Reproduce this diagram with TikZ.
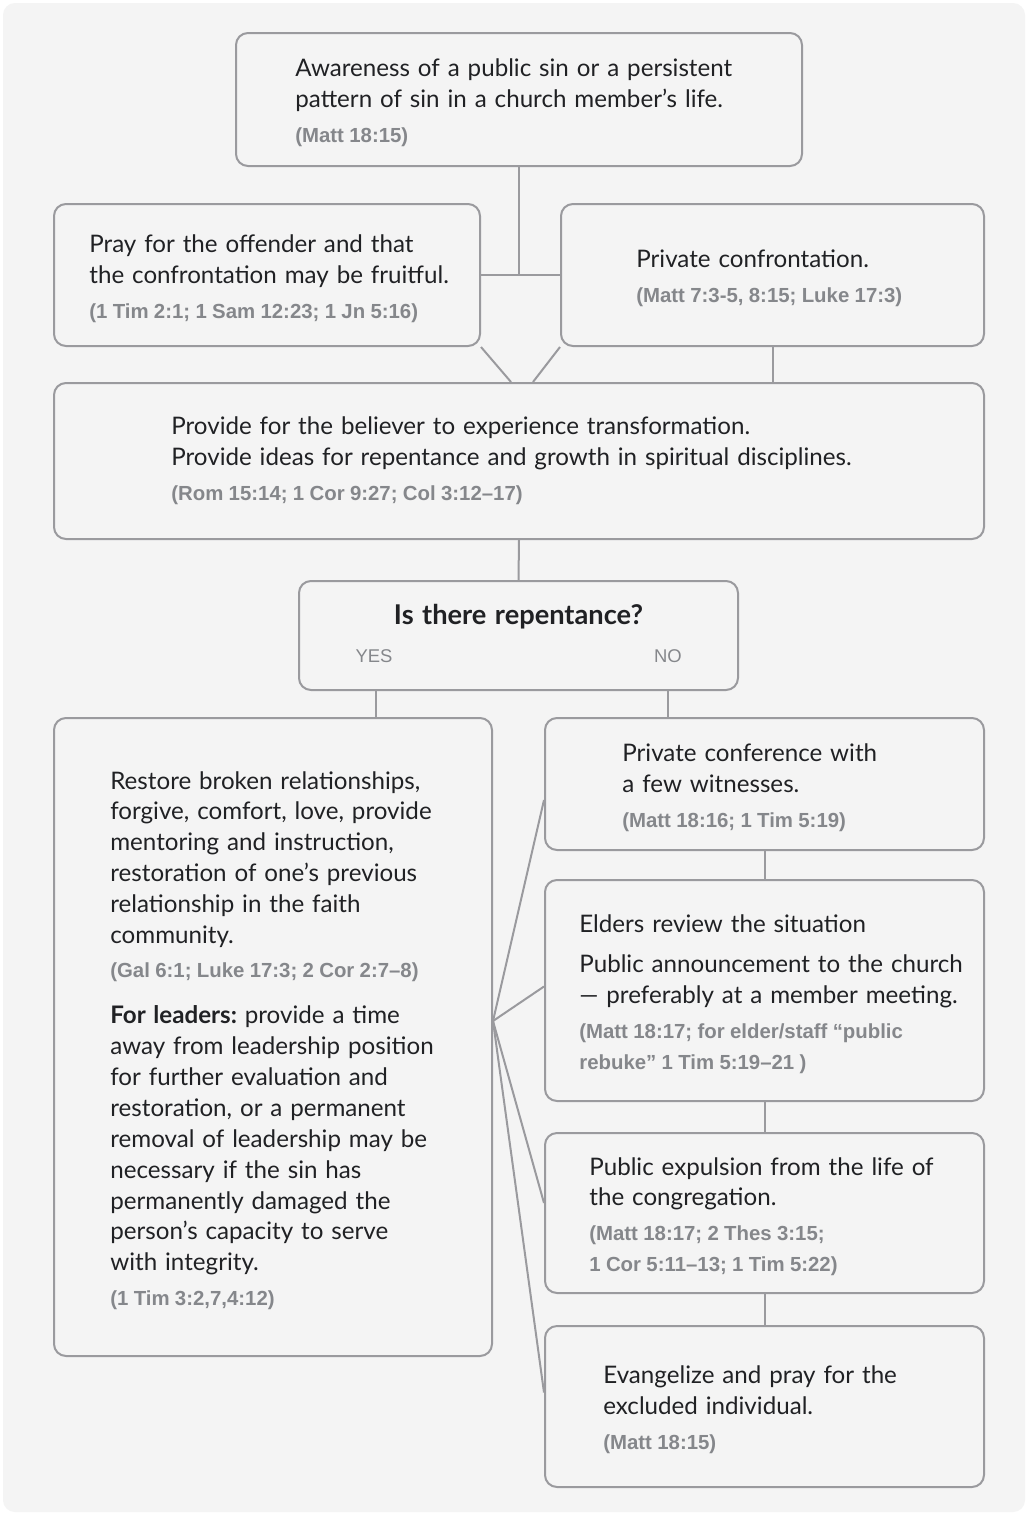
\documentclass[tikz,border=0pt]{standalone}
\usepackage{fontspec}
\setmainfont{Lato}[WordSpace=1.28]
\newfontfamily\reffont{Liberation Sans}[WordSpace=0.94]
\usetikzlibrary{calc}

\definecolor{bgGray}{HTML}{F4F4F4}
\definecolor{lineGray}{HTML}{9A9A9E}
\definecolor{textDark}{HTML}{202124}
\definecolor{refGray}{HTML}{85878B}
\newcommand{\scripture}[1]{{\reffont\bfseries\fontsize{11.6pt}{17.6pt}\selectfont\color{refGray}#1}}
\newcommand{\lead}{\rule{0pt}{0.5cm}}
\frenchspacing

\begin{document}
\begin{tikzpicture}[x=0.02cm, y=-0.02cm]

\pgfmathsetlengthmacro{\unit}{0.02cm}
\pgfmathsetlengthmacro{\gap}{0.08cm}
\tikzset{
  box/.style={draw=lineGray, line width=0.04cm, fill=bgGray, rounded corners=0.24cm, inner sep=0pt},
  copy/.style={anchor=west, inner sep=0pt, align=left, text=textDark, font=\fontsize{13.75pt}{17.6pt}\selectfont},
  link/.style={draw=lineGray, line width=0.04cm},
  answer/.style={font=\reffont\fontsize{10.5pt}{12pt}\selectfont, text=refGray, inner sep=0pt},
}

\fill[white] (0,0) rectangle (1028,1515);
\fill[bgGray, rounded corners=0.24cm] (3,3) rectangle (1025,1512);
\useasboundingbox (0,0) rectangle (1028,1515);

% frames
\node[box, minimum width=566*\unit, minimum height=133*\unit, name=awareness] at (519,99.5) {};
\node[box, minimum width=426*\unit, minimum height=142*\unit, name=pray] at (267,275) {};
\node[box, minimum width=423*\unit, minimum height=142*\unit, name=confront] at (772.5,275) {};
\node[box, minimum width=930*\unit, minimum height=156*\unit, name=provide] at (519,461) {};
\node[box, minimum width=439*\unit, minimum height=109*\unit, name=question] at (518.5,635.5) {};
\node[box, minimum width=438*\unit, minimum height=638*\unit, name=restore] at (273,1037) {};
\node[box, minimum width=439*\unit, minimum height=132*\unit, name=conference] at (764.5,784) {};
\node[box, minimum width=439*\unit, minimum height=221*\unit, name=elders] at (764.5,990.5) {};
\node[box, minimum width=439*\unit, minimum height=160*\unit, name=expulsion] at (764.5,1213) {};
\node[box, minimum width=439*\unit, minimum height=161*\unit, name=evangelize] at (764.5,1406.5) {};

% texts
\node[copy, name=awarenessText] at ($(awareness.west)+(60,0)$)
  {\lead Awareness of a public sin or a persistent\\ pattern of sin in a church member’s life.\\[\gap] \scripture{(Matt 18:15)}};
\node[copy, name=prayText] at ($(pray.west)+(36,0)$)
  {\lead Pray for the offender and that\\ the confrontation may be fruitful.\\[\gap] \scripture{(1 Tim 2:1; 1 Sam 12:23; 1 Jn 5:16)}};
\node[copy, name=confrontText] at ($(confront.west)+(76,0)$)
  {\lead Private confrontation.\\[\gap] \scripture{(Matt 7:3-5, 8:15; Luke 17:3)}};
\node[copy, name=provideText] at ($(provide.west)+(118,0)$)
  {Provide for the believer to experience transformation.\\ Provide ideas for repentance and growth in spiritual disciplines.\\[\gap] \scripture{(Rom 15:14; 1 Cor 9:27; Col 3:12–17)}};

\node[font=\bfseries\fontsize{15.5pt}{17pt}\selectfont, text=textDark, inner sep=0pt, name=questionTitle] at (518.5,617) {Is there repentance?};
\node[answer, name=yes] at (374,656) {YES};
\node[answer, name=no] at (668,656) {NO};

\node[copy, name=restoreText] at ($(restore.west)+(57,0)$)
  {\lead Restore broken relationships,\\ forgive, comfort, love, provide\\ mentoring and instruction,\\ restoration of one’s previous\\ relationship in the faith\\ community.\\[0.06cm] \scripture{(Gal 6:1; Luke 17:3; 2 Cor 2:7–8)}\\[0.3cm]
   \textbf{For leaders:} provide a time\\ away from leadership position\\ for further evaluation and\\ restoration, or a permanent\\ removal of leadership may be\\ necessary if the sin has\\ permanently damaged the\\ person’s capacity to serve\\ with integrity.\\[\gap] \scripture{(1 Tim 3:2,7,4:12)}};
\node[copy, name=conferenceText] at ($(conference.west)+(78,0)$)
  {\lead Private conference with\\ a few witnesses.\\[\gap] \scripture{(Matt 18:16; 1 Tim 5:19)}};
\node[copy, name=eldersText] at ($(elders.west)+(35,0)$)
  {\lead Elders review the situation\\[0.18cm] Public announcement to the church\\ — preferably at a member meeting.\\[\gap] \scripture{(Matt 18:17; for elder/staff “public}\\ \scripture{rebuke” 1 Tim 5:19–21 )}};
\node[copy, name=expulsionText] at ($(expulsion.west)+(45,0)$)
  {\lead Public expulsion from the life of\\ the congregation.\\[\gap] \scripture{(Matt 18:17; 2 Thes 3:15;}\\ \scripture{1 Cor 5:11–13; 1 Tim 5:22)}};
\node[copy, name=evangelizeText] at ($(evangelize.west)+(59,0)$)
  {\lead Evangelize and pray for the\\ excluded individual.\\[\gap] \scripture{(Matt 18:15)}};

% connectors
\draw[link] (awareness.south) -- (awareness.south |- pray.east);
\draw[link] (pray.east) -- (confront.west);
\draw[link] (pray.south east) -- ($(provide.north)+(-8,0)$);
\draw[link] (confront.south west) -- ($(provide.north)+(14,0)$);
\draw[link] (confront.south) -- (confront.south |- provide.north);
\draw[link] (provide.south) -- (question.north);
\draw[link] ($(yes |- question.south)+(2,0)$) -- ($(yes |- restore.north)+(2,0)$);
\draw[link] (no |- question.south) -- (no |- conference.north);
\foreach \a/\b in {conference/elders, elders/expulsion, expulsion/evangelize}
  \draw[link] (\a.south) -- (\b.north);

\coordinate (fan) at ($(restore.east)+(0,-16)$);
\foreach \tgt/\dy in {conference/16, elders/-4, expulsion/-10, evangelize/-14}
  \draw[link] (fan) -- ($(\tgt.west)+(0,\dy)$);

\end{tikzpicture}
\end{document}
